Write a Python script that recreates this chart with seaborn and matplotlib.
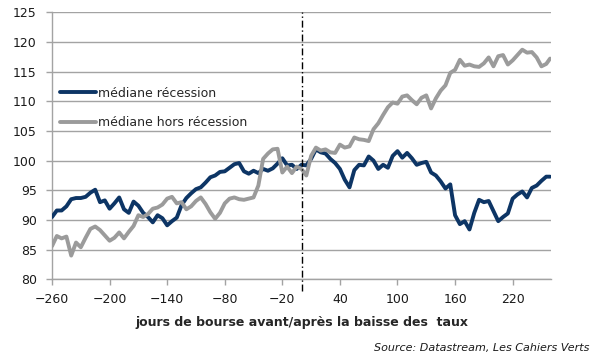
import numpy as np
import pandas as pd
import matplotlib
matplotlib.use("Agg")
import matplotlib.pyplot as plt
import seaborn as sns
from matplotlib.lines import Line2D

# jours de bourse (pas de 5 jours) et médianes
jours = list(range(-260, 260, 5)) + [259]

recession = [
    90.5, 91.6, 91.6, 92.3, 93.5, 93.7, 93.7, 93.9, 94.6, 95.1,
    93.0, 93.3, 91.9, 92.8, 93.8, 91.8, 91.2, 93.1, 92.4, 91.2,
    90.5, 89.6, 90.8, 90.3, 89.1, 89.8, 90.4, 92.5, 93.7, 94.5,
    95.2, 95.5, 96.3, 97.2, 97.5, 98.1, 98.2, 98.8, 99.4, 99.6,
    98.2, 97.8, 98.3, 97.9, 98.6, 98.3, 98.7, 99.5, 100.4, 99.2,
    99.3, 98.6, 99.3, 99.2, 100.3, 101.9, 101.4, 101.2, 100.3, 99.6,
    98.6, 96.8, 95.5, 98.4, 99.3, 99.2, 100.7, 100.0, 98.6, 99.3,
    98.8, 100.8, 101.6, 100.5, 101.3, 100.4, 99.3, 99.6, 99.8, 98.0,
    97.5, 96.5, 95.3, 96.0, 90.8, 89.3, 89.8, 88.4, 91.2, 93.4,
    93.0, 93.2, 91.5, 89.8, 90.5, 91.1, 93.6, 94.3, 94.8, 93.8,
    95.4, 95.8, 96.6, 97.3, 97.3,
]

hors_recession = [
    85.6, 87.3, 86.9, 87.2, 84.0, 86.2, 85.4, 87.0, 88.5, 88.9,
    88.3, 87.4, 86.5, 87.0, 87.9, 86.9, 88.0, 89.0, 90.8, 90.5,
    91.0, 91.9, 92.1, 92.6, 93.6, 93.9, 92.8, 93.0, 91.8, 92.3,
    93.2, 93.8, 92.7, 91.3, 90.2, 91.2, 92.8, 93.6, 93.8, 93.5,
    93.4, 93.6, 93.8, 95.8, 100.3, 101.2, 101.9, 102.0, 98.0, 99.0,
    97.9, 99.0, 98.6, 97.5, 100.8, 102.2, 101.7, 101.9, 101.4, 101.3,
    102.7, 102.2, 102.4, 103.9, 103.6, 103.5, 103.3, 105.3, 106.3, 107.7,
    109.0, 109.8, 109.6, 110.8, 111.0, 110.2, 109.5, 110.6, 111.0, 108.8,
    110.5, 111.8, 112.7, 114.8, 115.3, 117.0, 116.0, 116.2, 115.9, 115.8,
    116.4, 117.4, 115.9, 117.6, 117.8, 116.2, 116.9, 117.8, 118.7, 118.2,
    118.3, 117.4, 115.9, 116.3, 117.2,
]

series = ["médiane récession", "médiane hors récession"]
colors = {"médiane récession": "#0d3565", "médiane hors récession": "#9b9b9b"}

df = pd.concat([
    pd.DataFrame({"jour": jours, "valeur": recession, "serie": series[0]}),
    pd.DataFrame({"jour": jours, "valeur": hors_recession, "serie": series[1]}),
])

sns.set_style("white")
plt.rcParams["font.family"] = ["DejaVu Sans"]

fig = plt.figure(figsize=(6, 3.58), dpi=100)
ax = fig.add_axes([0.0867, 0.2198, 0.8317, 0.7458])

for s in series:
    sns.lineplot(data=df[df["serie"] == s], x="jour", y="valeur", color=colors[s],
                 lw=2.8, ax=ax, legend=False, zorder=3)

ax.set_xlim(-260, 260)
ax.set_ylim(80, 125)
ax.set_xticks(range(-260, 260, 60))
ax.set_yticks(range(80, 126, 5))
ax.yaxis.grid(True, color="#a3a3a3", lw=1.0)
ax.xaxis.grid(False)
for side in ["top", "right"]:
    ax.spines[side].set_visible(False)
for side in ["left", "bottom"]:
    ax.spines[side].set_color("#a3a3a3")
    ax.spines[side].set_linewidth(1.0)
ax.tick_params(axis="both", which="both", length=4, width=1.0, color="#a3a3a3",
               labelsize=9, labelcolor="#1a1a1a")
ax.tick_params(axis="y", pad=7, direction="out", left=True)
ax.tick_params(axis="x", pad=6, direction="out", bottom=True)

# ligne verticale : jour de la baisse des taux
ax.axvline(0, ymin=-0.045, ymax=1, color="black", lw=1.0, ls=(0, (5, 2, 1, 2)),
           clip_on=False, zorder=4)

ax.set_xlabel("jours de bourse avant/après la baisse des  taux", fontsize=9,
              fontweight="bold", labelpad=7)
ax.set_ylabel("")

handles = [Line2D([], [], color=colors[s], lw=2.8) for s in series]
ax.legend(handles, series, loc="center left", bbox_to_anchor=(0.016, 0.642),
          frameon=False, fontsize=9, handlelength=2.9, handletextpad=0.15,
          labelspacing=1.3, borderpad=0, borderaxespad=0)

fig.text(0.983, 0.028, "Source: Datastream, Les Cahiers Verts", ha="right",
         va="center", fontsize=8, style="italic", color="#1a1a1a")

fig.savefig("out.png", dpi=100)
